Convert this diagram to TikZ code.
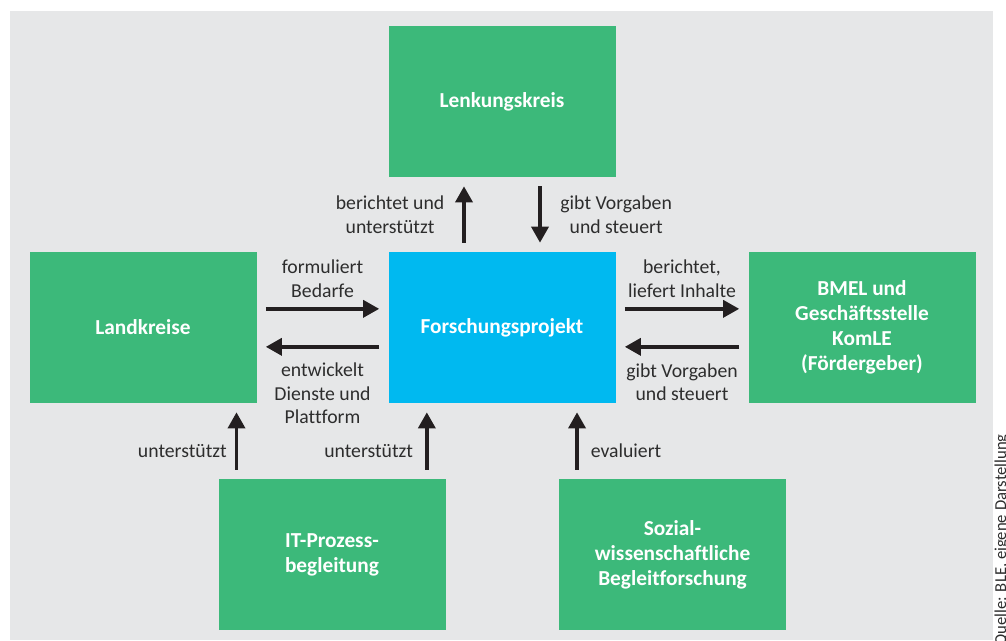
\documentclass[tikz,border=0pt]{standalone}
\usepackage{fontspec}
\setmainfont{Carlito}[Ligatures=NoCommon]
\usepackage{xcolor}
\usetikzlibrary{arrows.meta,positioning}

\definecolor{boxgreen}{RGB}{60,185,122}
\definecolor{boxblue}{RGB}{0,185,240}
\definecolor{bggray}{RGB}{230,231,232}
\definecolor{arrowdark}{RGB}{35,31,32}
\definecolor{txtdark}{RGB}{45,45,45}

\begin{document}
\begin{tikzpicture}[x=0.75pt, y=-0.75pt, >={Triangle[width=12.75pt,length=12pt]},
  box/.style={minimum width=170.25pt, minimum height=113.25pt, inner sep=0pt, outer sep=0pt,
    align=center, text=white, font=\fontsize{16}{18.8}\selectfont\bfseries},
  greenbox/.style={box, fill=boxgreen},
  bluebox/.style={box, fill=boxblue},
  flow/.style={->, line width=2.6pt, draw=arrowdark, shorten <=7pt, shorten >=7pt},
  lbl/.style={inner sep=0pt, align=center, text=txtdark, font=\fontsize{14.8}{17.6}\selectfont}]
\useasboundingbox (0,0) rectangle (1006,640);
\fill[bggray] (10,11) rectangle (993,640);

% boxes
\node[bluebox] (FP) at (502,327.5) {Forschungsprojekt};
\node[greenbox,above=56.25pt of FP] (LK) {Lenkungskreis};
\node[greenbox,left=99pt of FP] (LKR) {Landkreise};
\node[greenbox,right=99.75pt of FP] (BMEL) {BMEL und\\Geschäftsstelle\\KomLE\\(Fördergeber)};
\node[greenbox,below=57pt of FP,xshift=-127.5pt] (IT) {IT-Prozess-\\begleitung};
\node[greenbox,below=57pt of FP,xshift=127.9pt] (SOZ) {Sozial-\\wissenschaftliche\\Begleitforschung};

% Lenkungskreis
\draw[flow] ([xshift=-28.5pt]FP.north)--node[lbl,midway,left=13.5pt]{berichtet und\\unterstützt}([xshift=-28.5pt]LK.south);
\draw[flow] ([xshift=28.5pt]LK.south)--node[lbl,midway,right=14pt]{gibt Vorgaben\\und steuert}([xshift=28.5pt]FP.north);

% Landkreise
\draw[flow] ([yshift=14pt]LKR.east)--node[lbl,midway,yshift=22.5pt]{formuliert\\Bedarfe}([yshift=14pt]FP.west);
\draw[flow] ([yshift=-14.5pt]FP.west)--node[lbl,midway,yshift=-35pt]{entwickelt\\Dienste und\\Plattform}([yshift=-14.5pt]LKR.east);

% Foerdergeber
\draw[flow] ([yshift=14pt]FP.east)--node[lbl,midway,yshift=22.5pt]{berichtet,\\liefert Inhalte}([yshift=14pt]BMEL.west);
\draw[flow] ([yshift=-14.5pt]BMEL.west)--node[lbl,midway,yshift=-26.5pt]{gibt Vorgaben\\und steuert}([yshift=-14.5pt]FP.east);

% unten
\draw[flow] ([xshift=13.5pt]IT.north west)--node[lbl,pos=0.37,left=6pt]{unterstützt}([xshift=13.5pt]IT.north west |- LKR.south);
\draw[flow] ([xshift=-14pt]IT.north east)--node[lbl,pos=0.37,left=9pt]{unterstützt}([xshift=-14pt]IT.north east |- FP.south);
\draw[flow] ([xshift=13.5pt]SOZ.north west)--node[lbl,pos=0.37,right=9pt]{evaluiert}([xshift=13.5pt]SOZ.north west |- FP.south);

% Quelle
\node[rotate=90,anchor=base west,inner sep=0pt,text=txtdark,font=\fontsize{12.5}{15}\selectfont] (QU) at (1006,646) {Quelle: BLE, eigene Darstellung};
\end{tikzpicture}
\end{document}
